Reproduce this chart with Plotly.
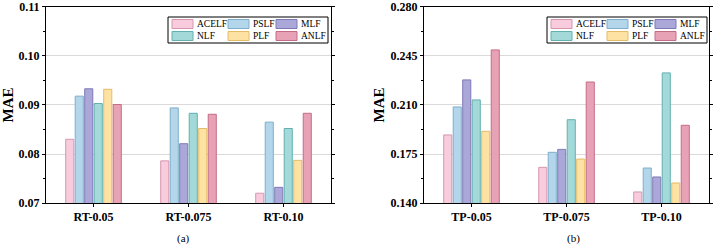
import plotly.graph_objects as go

models = ["ACELF", "PSLF", "MLF", "NLF", "PLF", "ANLF"]
fills = ["#F8CCDD", "#B3D6EA", "#ABA7D8", "#A3D9D8", "#FDE2A3", "#E8A2B5"]
edges = ["#D497AF", "#7EAECB", "#7E79B6", "#62B0AF", "#E3BC68", "#C46C87"]

rt_cats = ["RT-0.05", "RT-0.075", "RT-0.10"]
tp_cats = ["TP-0.05", "TP-0.075", "TP-0.10"]

rt_vals = {
    "ACELF": [0.0830, 0.0786, 0.0720],
    "PSLF":  [0.0918, 0.0894, 0.0865],
    "MLF":   [0.0933, 0.0821, 0.0732],
    "NLF":   [0.0903, 0.0883, 0.0852],
    "PLF":   [0.0932, 0.0852, 0.0787],
    "ANLF":  [0.0901, 0.0881, 0.0883],
}
tp_vals = {
    "ACELF": [0.1886, 0.1655, 0.1479],
    "PSLF":  [0.2086, 0.1762, 0.1650],
    "MLF":   [0.2279, 0.1783, 0.1586],
    "NLF":   [0.2136, 0.1995, 0.2329],
    "PLF":   [0.1912, 0.1714, 0.1543],
    "ANLF":  [0.2493, 0.2264, 0.1955],
}

rt_ticks = [0.07, 0.08, 0.09, 0.10, 0.11]
rt_labels = ["0.07", "0.08", "0.09", "0.10", "0.11"]
tp_ticks = [0.140, 0.175, 0.210, 0.245, 0.280]
tp_labels = ["0.140", "0.175", "0.210", "0.245", "0.280"]

FONT = "Liberation Serif"
W, H = 713, 247

fig = go.Figure()
for i, m in enumerate(models):
    fig.add_trace(go.Bar(
        x=rt_cats, y=rt_vals[m], name=m, xaxis="x", yaxis="y", showlegend=False,
        marker=dict(color=fills[i], line=dict(color=edges[i], width=1)),
    ))
for i, m in enumerate(models):
    fig.add_trace(go.Bar(
        x=tp_cats, y=tp_vals[m], name=m, xaxis="x2", yaxis="y2", showlegend=False,
        marker=dict(color=fills[i], line=dict(color=edges[i], width=1)),
    ))

def xax(domain, anchor):
    return dict(domain=domain, anchor=anchor, range=[-0.5, 2.5],
                showline=True, linecolor="black", linewidth=1, mirror=True,
                ticks="outside", ticklen=3, tickcolor="black",
                tickfont=dict(family=FONT, size=12, color="black", weight="bold"),
                showgrid=False, automargin=False, fixedrange=True)

def yax(anchor, ticks, labels):
    step = ticks[1] - ticks[0]
    return dict(anchor=anchor, domain=[0.178, 0.972],
                range=[ticks[0], ticks[-1]], tickvals=ticks, ticktext=labels,
                showline=True, linecolor="black", linewidth=1, mirror="ticks",
                ticks="outside", ticklen=3, tickcolor="black",
                minor=dict(dtick=step / 2, tick0=ticks[0], ticks="outside", ticklen=2,
                           tickcolor="black", showgrid=False),
                showgrid=True, gridcolor="#DADADA", gridwidth=1,
                tickfont=dict(family=FONT, size=12, color="black", weight="bold"),
                title=dict(text="MAE", standoff=2,
                           font=dict(family=FONT, size=15, color="black", weight="bold")),
                automargin=False, zeroline=False, fixedrange=True)

# custom compact legend (3 columns x 2 rows, boxed), one per panel
shapes, annotations = [], []
col_off = [4, 60, 108]      # swatch left offsets inside legend box (px)
row_off = [7, 19]           # row centre offsets from box top (px)
def add_legend(right_px, top_px, width_px=160, height_px=26):
    left_px = right_px - width_px
    px = lambda v: v / W
    py = lambda v: 1 - v / H
    shapes.append(dict(type="rect", xref="paper", yref="paper",
                       x0=px(left_px), x1=px(right_px), y0=py(top_px + height_px), y1=py(top_px),
                       line=dict(color="black", width=1), fillcolor="white", layer="above"))
    for i, m in enumerate(models):
        c, r = i % 3, i // 3
        sx = left_px + col_off[c]
        cy = top_px + row_off[r]
        shapes.append(dict(type="rect", xref="paper", yref="paper",
                           x0=px(sx), x1=px(sx + 21), y0=py(cy + 4.5), y1=py(cy - 4.5),
                           line=dict(color=edges[i], width=1), fillcolor=fills[i], layer="above"))
        annotations.append(dict(text=m, xref="paper", yref="paper", x=px(sx + 24), y=py(cy),
                                xanchor="left", yanchor="middle", showarrow=False, borderpad=0,
                                font=dict(family=FONT, size=9.5, color="black")))

add_legend(328, 17)
add_legend(707, 17)

annotations += [
    dict(text="(a)", x=183 / W, y=1 - 238 / H, xref="paper", yref="paper",
         xanchor="center", yanchor="middle",
         showarrow=False, font=dict(family=FONT, size=11, color="black")),
    dict(text="(b)", x=573 / W, y=1 - 238 / H, xref="paper", yref="paper",
         xanchor="center", yanchor="middle",
         showarrow=False, font=dict(family=FONT, size=11, color="black")),
]

fig.update_layout(
    width=W, height=H,
    margin=dict(l=0, r=0, t=0, b=0, autoexpand=False),
    paper_bgcolor="white", plot_bgcolor="white",
    barmode="group", bargap=0.4, bargroupgap=0.15,
    font=dict(family=FONT, color="black"),
    xaxis=xax([46 / W, 331 / W], "y"),
    yaxis=yax("x", rt_ticks, rt_labels),
    xaxis2=xax([424 / W, 709 / W], "y2"),
    yaxis2=yax("x2", tp_ticks, tp_labels),
    shapes=shapes,
    annotations=annotations,
    showlegend=False,
)

fig.write_html("out.html")
